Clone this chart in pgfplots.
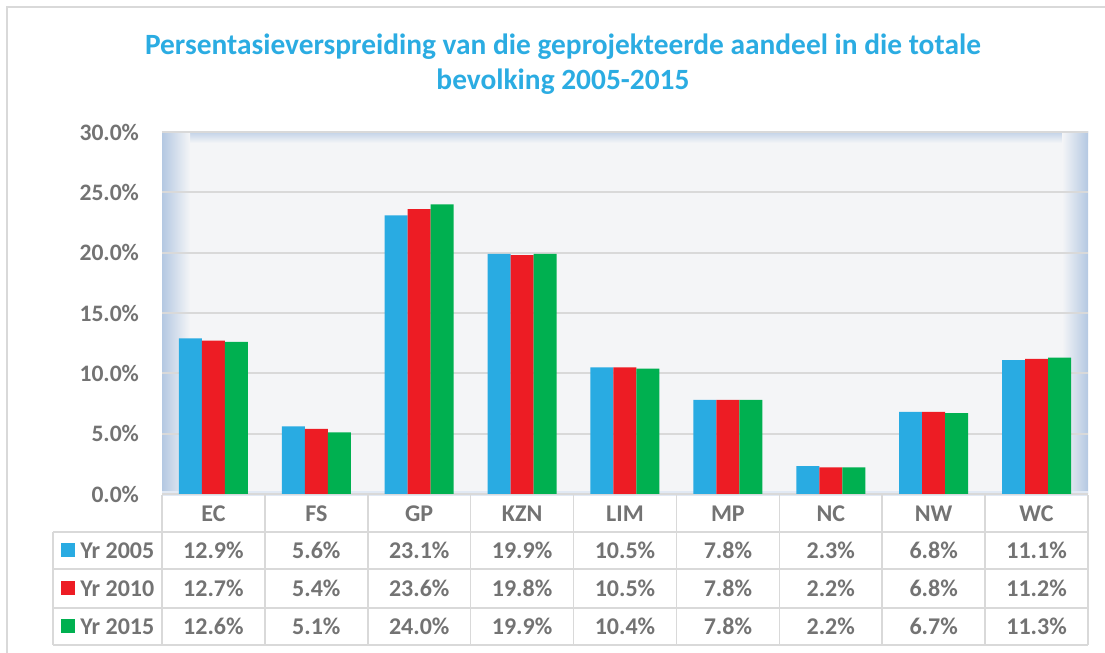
\documentclass[border=0pt]{standalone}
\usepackage{pgfplots}
\pgfplotsset{compat=1.18}
\usepackage{fontspec}
\setmainfont{Carlito}
\definecolor{tgray}{HTML}{737373}
\definecolor{tblue}{HTML}{2BACE2}
\definecolor{b1}{HTML}{29ABE2}
\definecolor{r1}{HTML}{ED1C24}
\definecolor{g1}{HTML}{00B050}
\definecolor{wall}{HTML}{B4C8E2}
\definecolor{bg}{HTML}{F4F5F7}
\definecolor{gridc}{HTML}{D9D9D9}
\begin{document}
\begin{tikzpicture}
\useasboundingbox (0,0) rectangle (552.5pt,326.5pt);
\begin{scope}[x=0.5pt,y=-0.5pt,yshift=326.5pt]
  \draw[gridc, line width=1pt] (7,653) -- (7,7) -- (1105,7);
  \fill[bg] (162,132) rectangle (1088,494);
  \shade[top color=wall!80, bottom color=bg] (162,132) rectangle (1088,143);
  \shade[left color=wall, right color=bg] (162,132) rectangle (190,494);
  \shade[left color=bg, right color=wall] (1062,132) rectangle (1088,494);
  \fill[wall!40] (162,491) rectangle (1088,496);
  \draw[gridc, line width=0.8pt] (162,132) -- (1088,132);
  \node[font=\bfseries\fontsize{14.7}{17.5}\selectfont, text=tblue, align=center] at (563,64)
    {Persentasieverspreiding van die geprojekteerde aandeel in die totale\\bevolking 2005-2015};
\end{scope}
\begin{axis}[
  at={(81pt,79.5pt)}, anchor=south west,
  scale only axis, width=463pt, height=181pt,
  xmin=-0.5, xmax=8.5, ymin=0, ymax=30,
  ybar=0pt, bar width=11.5pt,
  axis line style={draw=none},
  xtick=\empty,
  ytick={0,5,10,15,20,25,30},
  yticklabels={0.0\%,5.0\%,10.0\%,15.0\%,20.0\%,25.0\%,30.0\%},
  ymajorgrids, grid style={gridc, line width=1pt},
  major tick length=0pt,
  yticklabel style={font=\bfseries\fontsize{11.8}{13}\selectfont, text=tgray, xshift=-8pt},
  clip=false,
]
\addplot[fill=b1, draw=none] coordinates {(0,12.9) (1,5.6) (2,23.1) (3,19.9) (4,10.5) (5,7.8) (6,2.3) (7,6.8) (8,11.1)};
\addplot[fill=r1, draw=none] coordinates {(0,12.7) (1,5.4) (2,23.6) (3,19.8) (4,10.5) (5,7.8) (6,2.2) (7,6.8) (8,11.2)};
\addplot[fill=g1, draw=none] coordinates {(0,12.6) (1,5.1) (2,24.0) (3,19.9) (4,10.4) (5,7.8) (6,2.2) (7,6.7) (8,11.3)};
\end{axis}
\begin{scope}[x=0.5pt,y=-0.5pt,yshift=326.5pt, every node/.style={font=\bfseries\fontsize{12}{13}\selectfont, text=tgray}]
  \foreach \i in {0,...,9} { \draw[gridc, line width=0.8pt] ({162+\i*102.889},495) -- ({162+\i*102.889},645); }
  \draw[gridc, line width=0.8pt] (53,532) -- (53,645);
  \foreach \yy in {532,569,608,645} { \draw[gridc, line width=0.8pt] (53,\yy) -- (1088,\yy); }
  \foreach \c [count=\i from 0] in {EC,FS,GP,KZN,LIM,MP,NC,NW,WC} { \node at ({162+(\i+0.5)*102.889},514) {\c}; }
  \foreach \v [count=\i from 0] in {12.9,5.6,23.1,19.9,10.5,7.8,2.3,6.8,11.1} { \node at ({162+(\i+0.5)*102.889},550.5) {\v\%}; }
  \foreach \v [count=\i from 0] in {12.7,5.4,23.6,19.8,10.5,7.8,2.2,6.8,11.2} { \node at ({162+(\i+0.5)*102.889},588.5) {\v\%}; }
  \foreach \v [count=\i from 0] in {12.6,5.1,24.0,19.9,10.4,7.8,2.2,6.7,11.3} { \node at ({162+(\i+0.5)*102.889},626.5) {\v\%}; }
  \fill[b1] (61,543.5) rectangle (75,557.5);
  \fill[r1] (61,581.5) rectangle (75,595.5);
  \fill[g1] (61,619.5) rectangle (75,633.5);
  \node[anchor=west, inner sep=0pt] at (80,550.5) {Yr 2005};
  \node[anchor=west, inner sep=0pt] at (80,588.5) {Yr 2010};
  \node[anchor=west, inner sep=0pt] at (80,626.5) {Yr 2015};
\end{scope}
\end{tikzpicture}
\end{document}
